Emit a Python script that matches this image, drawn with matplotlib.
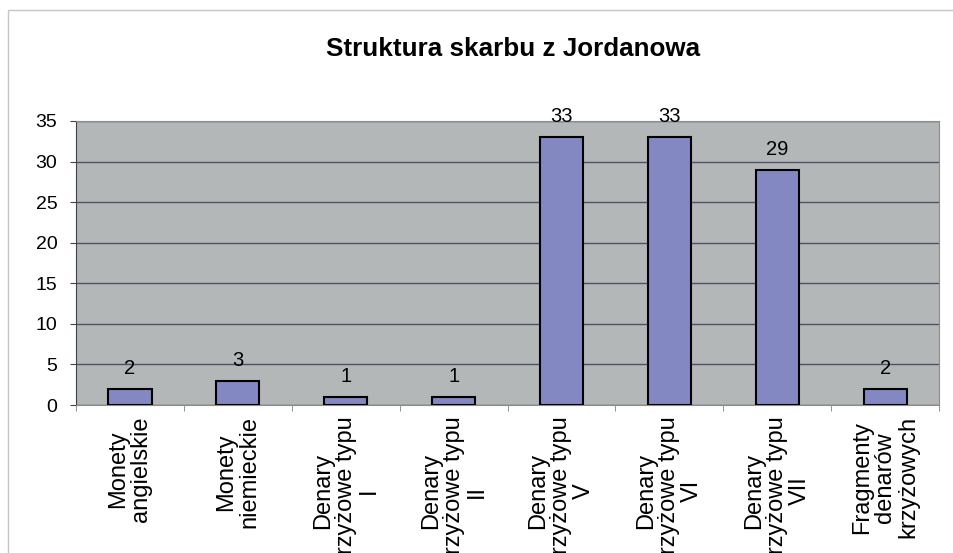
import matplotlib.pyplot as plt
import matplotlib.patches as patches
import numpy as np

plt.rcParams['font.family'] = ['Liberation Sans', 'DejaVu Sans']

categories = [
    "Monety\nangielskie",
    "Monety\nniemieckie",
    "Denary\nkrzyżowe typu\nI",
    "Denary\nkrzyżowe typu\nII",
    "Denary\nkrzyżowe typu\nV",
    "Denary\nkrzyżowe typu\nVI",
    "Denary\nkrzyżowe typu\nVII",
    "Fragmenty\ndenarów\nkrzyżowych",
]
counts = [2, 3, 1, 1, 33, 33, 29, 2]
y_ticks = [0, 5, 10, 15, 20, 25, 30, 35]
title = "Struktura skarbu z Jordanowa"

fig = plt.figure(figsize=(9.54, 5.53), dpi=100)
ax = fig.add_axes([0.0797, 0.2676, 0.9046, 0.5136])

# outer chart border (runs off the right and bottom like the source)
fig.patches.append(patches.Rectangle((8 / 954, -0.1), 1.1, 1 - 10 / 553 + 0.1,
                                     transform=fig.transFigure, fill=False,
                                     edgecolor='#c4c4cc', linewidth=1.0))

x = np.arange(len(categories))
ax.set_facecolor('#b4b7b7')
ax.bar(x, counts, width=0.4, color='#8488c2', edgecolor='black', linewidth=1.5, zorder=3)
for xi, v in zip(x, counts):
    ax.annotate(str(v), (xi, v), xytext=(0, 8), textcoords='offset points',
                ha='center', va='bottom', fontsize=14.5, zorder=4,
                annotation_clip=False)

ax.set_xlim(-0.5, len(categories) - 0.5)
ax.set_ylim(0, 35)
ax.set_yticks(y_ticks)
ax.yaxis.grid(True, color='#50506a', linewidth=1.0, zorder=1)
ax.set_axisbelow(True)

ax.set_xticks(x)
ax.set_xticklabels(categories, rotation=90, ha='center', va='top',
                   multialignment='center', fontsize=17, linespacing=1.05)
ax.set_xticks(np.arange(len(categories) + 1) - 0.5, minor=True)
ax.tick_params(axis='x', which='major', length=0, pad=8)
ax.tick_params(axis='x', which='minor', length=4.5, color='#808080')
ax.tick_params(axis='y', labelsize=14, length=4.5, pad=9, color='#404050')

for side in ['top', 'right', 'bottom']:
    ax.spines[side].set_color('#8c8c8c')
ax.spines['left'].set_color('#404050')

fig.text(0.538, 0.911, title, ha='center', va='center', fontsize=18.7, fontweight='bold')

fig.savefig('out.png', dpi=100)
